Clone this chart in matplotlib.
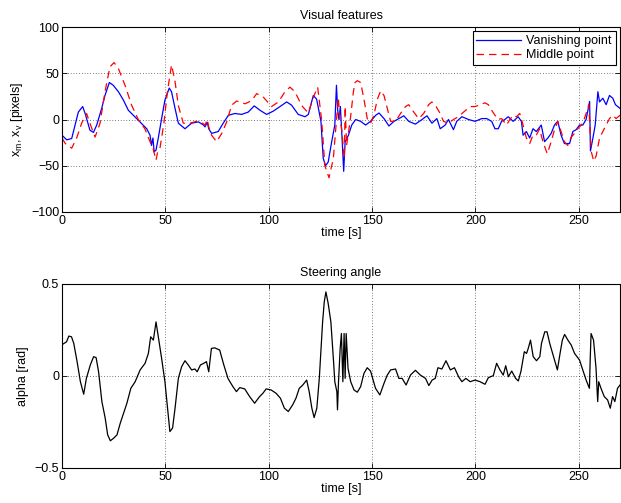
import matplotlib
matplotlib.use("Agg")
import matplotlib.pyplot as plt

plt.rcParams['font.family'] = ['Liberation Sans', 'DejaVu Sans']
plt.rcParams['font.size'] = 9
plt.rcParams['mathtext.fontset'] = 'custom'
plt.rcParams['mathtext.rm'] = 'Liberation Sans'

# ---- Data ----
vp_t = [0, 2.3, 4.7, 7.9, 10, 11.2, 13.5, 15.2, 16.8, 19.2, 20.8, 22.9, 24.8, 27.3, 29.7, 32.1,
        34.5, 37.7, 41, 42.6, 43.3, 44, 44.6, 45.5, 46.6, 48.2, 49.8, 51.9, 53, 54.7, 56.3, 59.5,
        62.7, 66, 68.5, 69.2, 70.3, 71, 72.4, 75.6, 78, 80.5, 83.7, 86.9, 90.1, 93, 95.8, 99, 102.2,
        105.5, 108.7, 111.1, 114.3, 117.6, 119.2, 121.6, 123.2, 125.3, 126.4, 127.5, 128.8, 130.5,
        132, 132.8, 133.4, 134, 134.7, 135.6, 136.3, 137, 138.6, 140.2, 142.1, 144.5, 146.9, 149.3,
        151.8, 153.4, 155.8, 158.2, 160.6, 163, 165.4, 167.8, 171, 174.2, 176.6, 179, 181.4, 183,
        185.4, 187, 189.4, 191, 193.5, 196.7, 199.9, 203.1, 205.5, 207.9, 209.5, 211.1, 212.7, 214.3,
        215.9, 218.3, 220.7, 222.3, 223.1, 224.7, 226.3, 227.9, 229.5, 231.9, 233.5, 235.1, 236.7,
        238.3, 239.9, 241.5, 243.1, 245.6, 247.2, 248.8, 250.4, 252, 253.6, 255.3, 255.7, 256.9, 258,
        259.3, 260.1, 261.7, 263.3, 264.9, 266.5, 267.8, 270]
vp_x = [-17, -22, -20.5, 8, 14, 6.5, -11.5, -14, -6, 12, 26, 40, 37, 30, 21, 10,
        4.6, -2.6, -10, -17, -28, -20, -35, -33, -20, 1, 21, 34, 30, 12, -4, -10,
        -4, -2.6, -6, -8, -3, -10, -15, -13, -4, 4.6, 6.5, 5.5, 8, 14.7, 10, 5.5, 9,
        14, 19, 15.5, 5.5, 3, 5.5, 26, 22, -2, -42, -50, -46, -24,
        -6, 37, 10, 0, 14, -24, -56, -24, -17, -6, 0, -2, -6, -2,
        4.6, 7, 1, -7, -2, 1, 4, -2, -5, 0, 4, -4, 1, -10,
        -6, 0, -11, -2, 3, 0, -2, 1, 1, -2, -10, -10, -2, 0,
        3, -2, 3, -2, -17, -13, -20, -10, -13, -6, -24, -20, -15,
        -6, -2, -17, -26, -26, -13, -11, -6, -6, 0, 19.5, -34, -20, -6,
        30, 19, 23, 16, 26, 23, 16, 12]

mp_t = [0, 1.6, 4.7, 7.1, 9.5, 11.9, 13.5, 16, 18.4, 20.8, 23.2, 25.2, 27.3, 30.5, 33.7, 36.9,
        40.1, 42.6, 44, 44.8, 45.5, 46.2, 47.4, 49.3, 51, 53, 54.7, 56.3, 58.7, 61.9, 65, 68,
        69.2, 70.3, 71, 72.4, 74.8, 77.3, 79.7, 82.1, 84.5, 88.6, 91.8, 94.2, 97.5, 101.4, 104.7,
        107.9, 110.3, 112.7, 116, 119.2, 121.6, 123.7, 125.6, 127.2, 129.2, 131.3, 132.6, 133.7,
        134.5, 135.3, 136.6, 137, 137.7, 139.4, 141, 141.8, 142.9, 144.5, 146.1, 147.7, 149.3,
        150.9, 152.6, 154.2, 155.8, 157.4, 159, 161.4, 163.8, 166.2, 167.8, 170.2, 172.6, 175,
        177.4, 179, 181, 183, 184.6, 187, 189.4, 191.8, 194.3, 197.5, 199.9, 202.3, 204.7, 206.3,
        207.9, 209.5, 211.1, 212.7, 215.1, 216.7, 218.3, 219.9, 221.5, 223.1, 224.7, 226.3, 227.9,
        229.5, 231.1, 232.7, 234.8, 236.7, 238.3, 239.9, 241.5, 243.1, 244.7, 246.4, 248, 249.6,
        252, 253.6, 254.9, 256, 257.3, 258.5, 260.1, 261.7, 263.3, 264.9, 266.5, 268.1, 270]
mp_x = [-20, -26, -31, -20, -4, 6.5, -4, -19, -4, 30, 57, 61.5, 55, 37, 15.4, 0,
        -10, -24, -31, -38, -44, -36, -31, -4, 30, 59, 41, 15, -4, -4, -2, -4,
        -6, 0, -8, -17, -24, -15, -2.6, 15.5, 20, 17, 20.5, 28, 24, 14, 19,
        30, 35, 30, 15, 7, 24, 35, 0, -50, -63, -42, -6, 24,
        0, -10, -42, 14, -28, -2, 30, 40, 42, 40, 22, 1, -4,
        4.6, 22, 31, 26, 12, -2, -2, 6.5, 14, 16, 8, 1, 6.5,
        16, 19, 14, 6.5, -2, -4, 0, 3, 8, 14, 14, 16, 18, 16,
        10, 4.6, 0, 1, -6, 0, 4.6, 3, 6.5, -6, -20, -26, -17,
        -17, -10, -24, -37, -24, -11, -2, -13, -24, -28, -19, -15, -10,
        -4, 6.5, 16, -34, -45, -39, -20, -13, -6, 1, 4.6, 1, 4.6]

al_t = [0, 2.2, 3.3, 4.6, 5.7, 7.3, 8.9, 10.5, 11.8, 13.7, 15.3, 16.5, 17.7, 19.3, 20.9, 22.1,
        23.4, 25, 26.6, 28.2, 29.8, 31.4, 33.3, 35.4, 37.8, 40.2, 41.8, 42.9, 44.2, 45.5, 46.6,
        48.2, 49.8, 51.1, 52.2, 53.5, 54.7, 56.3, 57.9, 59.5, 61.1, 62.7, 64.3, 65.4, 67, 68.6,
        69.9, 71, 72.3, 73.9, 76.3, 78.3, 80.3, 82.7, 84.4, 86, 88.4, 90.8, 93.2, 95.6, 97.2, 98.8,
        101.2, 103.6, 105.7, 107.6, 109.5, 111.6, 113.2, 114.8, 116.5, 118.4, 119.6, 120.9, 122,
        123.3, 124.5, 126.1, 126.9, 127.7, 128.8, 130.1, 131.4, 132, 133, 133.3, 133.8, 134.6,
        135.2, 135.9, 136.5, 137, 137.5, 138.4, 139.7, 141.3, 142.9, 144.5, 146.1, 147.7, 149.3,
        151.7, 153.8, 155.8, 157.4, 159, 161.4, 163, 164.6, 166.5, 168.6, 171, 173.4, 175.9, 177.5,
        179.1, 180.6, 181.9, 183.8, 185.8, 187.9, 189.9, 191.9, 193.5, 195.4, 197.5, 199.9, 202.3,
        204.7, 206.3, 208.7, 210.3, 211.9, 213.5, 214.7, 216, 217.6, 219.5, 220.8, 222.1, 223.7,
        224.8, 225.6, 226.7, 228, 229.6, 231.2, 232, 233.6, 234.7, 236, 238.1, 239.7, 241, 242.1,
        243.2, 244.8, 246.4, 248, 250.4, 252, 253.6, 255.2, 255.6, 256, 257.2, 258.4, 259.2, 259.7,
        260.8, 262.4, 264, 265.3, 266.4, 267.5, 268.8, 270]
al_v = [0.17, 0.186, 0.217, 0.213, 0.177, 0.078, -0.031, -0.099, -0.013, 0.06, 0.105, 0.1, 0.023,
        -0.139, -0.229, -0.32, -0.352, -0.338, -0.32, -0.256, -0.202, -0.148, -0.067, -0.031, 0.033,
        0.069, 0.123, 0.213, 0.195, 0.294, 0.213, 0.096, -0.031, -0.175, -0.302, -0.283, -0.175,
        -0.013, 0.051, 0.083, 0.06, 0.033, 0.038, 0.023, 0.06, 0.069, 0.078, 0.023, 0.15, 0.153,
        0.141, 0.06, -0.013, -0.058, -0.085, -0.063, -0.07, -0.112, -0.148, -0.112, -0.094, -0.07,
        -0.076, -0.094, -0.121, -0.175, -0.193, -0.157, -0.121, -0.067, -0.049, -0.022, -0.085,
        -0.175, -0.226, -0.175, -0.013, 0.294, 0.403, 0.457, 0.394, 0.294, 0.078, -0.031, -0.085,
        -0.184, -0.031, 0.15, 0.231, -0.031, 0.231, -0.013, 0.231, 0.042, -0.031, -0.076, -0.088,
        -0.058, 0.014, 0.045, 0.027, -0.067, -0.103, -0.04, 0.005, 0.033, 0.038, -0.013, -0.013,
        -0.049, 0.005, 0.031, 0.005, -0.013, -0.052, -0.022, -0.013, 0.045, 0.038, 0.083, 0.033,
        0.045, -0.004, -0.031, -0.013, -0.031, -0.022, -0.031, -0.045, -0.009, 0.002, 0.069, 0.033,
        0.005, 0.056, -0.004, 0.027, -0.013, -0.027, 0.027, 0.132, 0.123, 0.15, 0.195, 0.105, 0.083,
        0.105, 0.177, 0.24, 0.24, 0.177, 0.096, 0.033, 0.123, 0.195, 0.226, 0.195, 0.168, 0.123,
        0.087, 0.033, -0.022, -0.067, 0.096, 0.231, 0.195, 0.042, -0.139, -0.031, -0.067, -0.112,
        -0.13, -0.175, -0.112, -0.139, -0.067, -0.049]

xticks = [0, 50, 100, 150, 200, 250]
yticks_top = [-100, -50, 0, 50, 100]
yticks_bot = [-0.5, 0, 0.5]

W, H = 621, 503
fig = plt.figure(figsize=(W / 100, H / 100), dpi=100)
ax1 = fig.add_axes([62 / W, 1 - 212 / H, 558 / W, 185 / H])
ax2 = fig.add_axes([62 / W, 1 - 468 / H, 558 / W, 184 / H])


def style(ax):
    ax.set_xlim(0, 270)
    ax.set_xticks(xticks)
    ax.tick_params(direction='in', top=True, right=True, length=3.5, width=0.6,
                   labelsize=9, pad=2)
    ax.grid(True, linestyle=(0, (1, 3)), color='black', linewidth=0.5)
    for s in ax.spines.values():
        s.set_linewidth(0.8)
    ax.set_xlabel('time [s]', fontsize=9, labelpad=0)


ax1.plot(vp_t, vp_x, color='#0000ff', linewidth=0.9, label='Vanishing point')
ax1.plot(mp_t, mp_x, color='#ff0000', linewidth=0.9, linestyle=(0, (6, 4)), label='Middle point')
ax1.set_ylim(-100, 100)
ax1.set_yticks(yticks_top)
style(ax1)
ax1.set_title('Visual features', fontsize=9, pad=6)
ax1.set_ylabel(r'x$_{\mathrm{m}}$, x$_{\mathrm{v}}$ [pixels]', fontsize=9, labelpad=4)
leg = ax1.legend(loc='upper right', fontsize=9, frameon=True, fancybox=False,
                 edgecolor='black', framealpha=1, borderpad=0.3, handlelength=3.6,
                 handletextpad=0.4, labelspacing=0.15, borderaxespad=0.35)
leg.get_frame().set_linewidth(0.8)

ax2.plot(al_t, al_v, color='black', linewidth=0.9)
ax2.set_ylim(-0.5, 0.5)
ax2.set_yticks(yticks_bot)
ax2.set_yticklabels(['\u22120.5', '0', '0.5'])
style(ax2)
ax2.set_title('Steering angle', fontsize=9, pad=6)
ax2.set_ylabel('alpha [rad]', fontsize=9, labelpad=4)

fig.savefig('out.png', dpi=100)
